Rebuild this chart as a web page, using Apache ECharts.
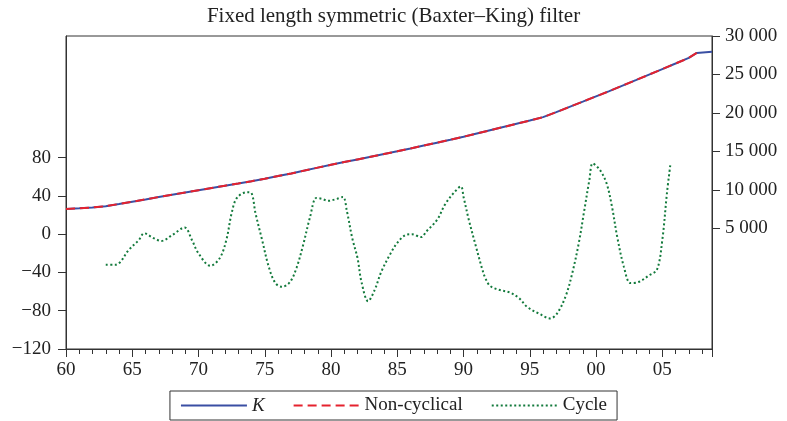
<!DOCTYPE html>
<html>
<head>
<meta charset="utf-8">
<script src="https://cdn.jsdelivr.net/npm/echarts@6/dist/echarts.min.js"></script>
<style>
html,body{margin:0;padding:0;background:#fff;}
#c{width:787px;height:421px;}
</style>
</head>
<body>
<div id="c"></div>
<script>
// ---- data ----
var kYears = [1960,1961,1962,1963,1964,1965,1966,1967,1968,1969,1970,1971,1972,1973,1974,1975,1976,1977,1978,1979,1980,1981,1982,1983,1984,1985,1986,1987,1988,1989,1990,1991,1992,1993,1994,1995,1996,1997,1998,1999,2000,2001,2002,2003,2004,2005,2006,2007,2007.6,2007.75,2008.75];
var kValues = [7500,7590,7700,7870,8150,8450,8750,9060,9360,9660,9950,10240,10530,10820,11120,11440,11780,12130,12500,12880,13250,13600,13950,14300,14650,15000,15370,15750,16130,16510,16900,17320,17740,18160,18580,19000,19450,20100,20780,21460,22150,22840,23550,24260,24980,25700,26420,27150,27800,27950,27950];

var ncYears = [1960,1961,1962,1963,1964,1965,1966,1967,1968,1969,1970,1971,1972,1973,1974,1975,1976,1977,1978,1979,1980,1981,1982,1983,1984,1985,1986,1987,1988,1989,1990,1991,1992,1993,1994,1995,1996,1997,1998,1999,2000,2001,2002,2003,2004,2005,2006,2007,2007.6];
var ncValues = [7500,7590,7700,7870,8150,8450,8750,9060,9360,9660,9950,10240,10530,10820,11120,11440,11780,12130,12500,12880,13250,13600,13950,14300,14650,15000,15370,15750,16130,16510,16900,17320,17740,18160,18580,19000,19450,20100,20780,21460,22150,22840,23550,24260,24980,25700,26420,27150,27800];

var cycleYears = [1963.0,1963.7,1964.1,1964.7,1965.5,1965.9,1966.6,1967.2,1968.0,1968.95,1969.5,1970.0,1970.9,1971.6,1972.1,1972.5,1972.9,1973.7,1974.0,1974.3,1974.8,1975.3,1975.8,1976.3,1976.9,1977.4,1977.9,1978.4,1978.9,1979.3,1979.8,1980.45,1980.9,1981.2,1981.6,1982.0,1982.3,1982.8,1983.3,1983.8,1984.5,1985.0,1985.6,1986.1,1986.8,1987.2,1988.0,1988.6,1989.25,1989.8,1990.0,1990.4,1990.9,1991.4,1991.65,1992.0,1992.65,1993.5,1994.2,1994.8,1995.7,1996.55,1997.05,1997.7,1998.2,1998.7,1999.1,1999.5,1999.75,2000.3,2000.8,2001.2,2001.6,2002.1,2002.6,2003.2,2004.0,2004.6,2005.0,2005.35,2005.6];
var cycleValues = [-32,-32,-29,-17,-6,1,-4,-7,-1,7,-6,-20,-33,-25,-6,22,38,44,43,22,-6,-34,-51,-55,-50,-35,-11,17,38,37,35,37,39,24,-4,-25,-50,-70,-58,-39,-20,-9,-1,0,-3,3,15,31,43,50,39,15,-11,-36,-46,-54,-58,-61,-67,-76,-83,-88,-83,-65,-41,-9,24,57,74,67,53,29,-3,-34,-51,-50,-43,-37,-6,43,72];

var leftTicks = [-120,-80,-40,0,40,80];
var rightTicks = [5000,10000,15000,20000,25000,30000];
var seriesNames = ['K','Non-cyclical','Cycle'];

function zip(a,b){ return a.map(function(v,i){ return [v,b[i]]; }); }
function fmtThousands(v){
  var s = String(Math.round(v));
  if (s.length > 3) s = s.slice(0, s.length-3) + ' ' + s.slice(s.length-3);
  return s;
}

var FONT = '"Liberation Serif", "DejaVu Serif", serif';
var FS = 19;
var chart = echarts.init(document.getElementById('c'));
chart.setOption({
  animation: false,
  backgroundColor: '#fff',
  title: {
    text: 'Fixed length symmetric (Baxter\u2013King) filter',
    left: 'center', top: 1,
    textStyle: { fontFamily: FONT, fontSize: 21, fontWeight: 'normal', color: '#222' }
  },
  grid: { left: 66, right: 75, top: 36, bottom: 72, show: true, borderColor: '#333', borderWidth: 1 },
  legend: {
    data: seriesNames,
    top: 391, left: 'center',
    itemWidth: 66, itemHeight: 10, itemGap: 28,
    padding: [5, 10, 5, 10],
    borderColor: '#333', borderWidth: 1, borderRadius: 0,
    itemStyle: { opacity: 0, color: 'rgba(0,0,0,0)', borderWidth: 0 },
    textStyle: { fontFamily: FONT, fontSize: FS, color: '#222', rich: { i: { fontStyle: 'italic', fontFamily: FONT, fontSize: FS } } },
    formatter: function(n){ return n === 'K' ? '{i|K}' : n; }
  },
  xAxis: {
    type: 'value', min: 1960, max: 2008.75, interval: 5,
    axisLine: { show: true, onZero: false, lineStyle: { color: '#333', width: 1 } },
    axisTick: { show: true, length: 8, lineStyle: { color: '#333' } },
    minorTick: { show: true, splitNumber: 5, length: 5, lineStyle: { color: '#333' } },
    splitLine: { show: false },
    axisLabel: {
      fontFamily: FONT, fontSize: FS, color: '#222', margin: 12,
      formatter: function(v){ var y = Math.round(v) % 100; return (y < 10 ? '0' : '') + y; },
      showMaxLabel: false
    }
  },
  yAxis: [
    {
      type: 'value', position: 'left', min: -120, max: 207.3,
      axisLine: { show: true, onZero: false, lineStyle: { color: '#333' } },
      axisTick: { show: true, length: 8, customValues: leftTicks, lineStyle: { color: '#333' } },
      axisLabel: { fontFamily: FONT, fontSize: FS, color: '#222', margin: 15, customValues: leftTicks,
        formatter: function(v){ return v < 0 ? '\u2212' + Math.abs(v) : String(v); } },
      splitLine: { show: false }
    },
    {
      type: 'value', position: 'right', min: -10706, max: 30000,
      axisLine: { show: true, onZero: false, lineStyle: { color: '#333' } },
      axisTick: { show: true, length: 8, customValues: rightTicks, lineStyle: { color: '#333' } },
      axisLabel: { fontFamily: FONT, fontSize: FS, color: '#222', margin: 13, customValues: rightTicks,
        formatter: fmtThousands },
      splitLine: { show: false }
    }
  ],
  series: [
    {
      name: 'K', type: 'line', yAxisIndex: 1, symbol: 'none', smooth: false,
      data: zip(kYears, kValues),
      lineStyle: { color: '#3a4fa3', width: 2 },
      itemStyle: { color: '#3a4fa3' }
    },
    {
      name: 'Non-cyclical', type: 'line', yAxisIndex: 1, symbol: 'none', smooth: false,
      data: zip(ncYears, ncValues),
      lineStyle: { color: '#e5222e', width: 2, type: [9, 5] },
      itemStyle: { color: '#e5222e' }
    },
    {
      name: 'Cycle', type: 'line', yAxisIndex: 0, symbol: 'none', smooth: 0.35,
      data: zip(cycleYears, cycleValues),
      lineStyle: { color: '#137a3c', width: 2, type: [2, 2.5] },
      itemStyle: { color: '#137a3c' }
    }
  ]
});
</script>
</body>
</html>
